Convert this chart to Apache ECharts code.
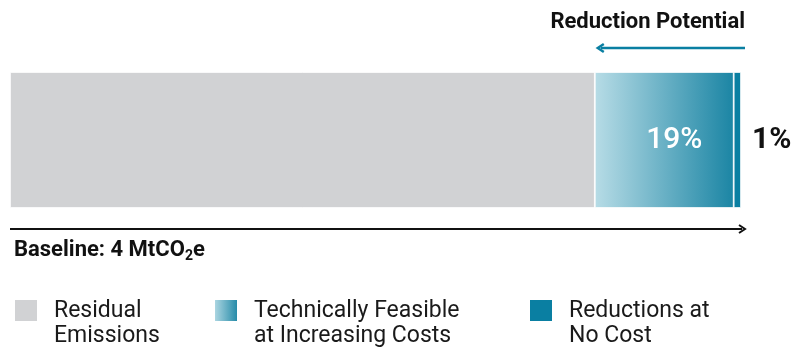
<!DOCTYPE html>
<html>
<head>
<meta charset="utf-8">
<script src="https://cdn.jsdelivr.net/npm/echarts@6/dist/echarts.min.js"></script>
<style>
  html, body { margin: 0; padding: 0; background: #fff; }
  #main { width: 796px; height: 348px; }
</style>
</head>
<body>
<div id="main"></div>
<script>
// values (share of baseline, %)
var categories = ['Baseline'];
var seriesNames = ['Residual\nEmissions', 'Technically Feasible\nat Increasing Costs', 'Reductions at\nNo Cost'];
var residual = [80];
var feasible = [19];
var noCost = [1];
var baselineLabel = 'Baseline: 4 MtCO';

var FONT = 'Roboto, sans-serif';
var TEAL = '#0a7fa2';

var chart = echarts.init(document.getElementById('main'));

var gradient = new echarts.graphic.LinearGradient(0, 0, 1, 0, [
    {offset: 0, color: '#b7dce6'},
    {offset: 1, color: '#1b85a4'}
]);

// square sitting at the top of a 24x50 icon box, so it lines up with the first text line
var legendIcon = 'path://M0,0h24v23h-24z M23.99,49.99h0.01v0.01h-0.01z';

var option = {
    animation: false,
    grid: {left: 10, right: 55, top: 72, height: 136},
    xAxis: {type: 'value', min: 0, max: 100, show: false},
    yAxis: {type: 'category', data: categories, show: false},
    legend: [0, 1, 2].map(function (i) {
        return {
            data: [seriesNames[i]],
            left: [8, 208, 523][i],
            top: 293,
            itemWidth: 24,
            itemHeight: 50,
            icon: legendIcon,
            selectedMode: false,
            textStyle: {
                fontFamily: FONT, fontSize: 23, color: '#1a1a1a',
                lineHeight: 25, padding: [0, 0, 0, 11]
            }
        };
    }),
    series: [{
        name: seriesNames[0], type: 'bar', stack: 'all', data: residual,
        barWidth: 136,
        itemStyle: {color: '#d1d2d4', borderColor: '#fff', borderWidth: 0.8}
    }, {
        name: seriesNames[1], type: 'bar', stack: 'all', data: feasible,
        itemStyle: {color: gradient, borderColor: '#fff', borderWidth: 0.8},
        label: {
            show: true, position: 'inside', offset: [10, 0],
            formatter: '{c}%', color: '#fff',
            fontFamily: FONT, fontSize: 30, fontWeight: 500
        }
    }, {
        name: seriesNames[2], type: 'bar', stack: 'all', data: noCost,
        itemStyle: {color: TEAL, borderColor: '#fff', borderWidth: 0.8},
        label: {
            show: true, position: 'right', distance: 11,
            formatter: '{c}%', color: '#111',
            fontFamily: FONT, fontSize: 30, fontWeight: 'bold'
        }
    }]
};
chart.setOption(option);

// arrows placed from the axis scale
var total = residual[0] + feasible[0] + noCost[0];
var x0 = chart.convertToPixel({gridIndex: 0}, [0, 0])[0];
var xEnd = chart.convertToPixel({gridIndex: 0}, [total, 0])[0] + 4;
var xRes = chart.convertToPixel({gridIndex: 0}, [residual[0], 0])[0] + 3;

function arrow(x1, x2, y, color, w) {
    var dir = x2 > x1 ? 1 : -1;
    return [{
        type: 'line',
        shape: {x1: x1, y1: y, x2: x2 - dir * 3, y2: y},
        style: {stroke: color, lineWidth: w}
    }, {
        type: 'polyline',
        shape: {points: [[x2 - dir * 6, y - 4], [x2, y], [x2 - dir * 6, y + 4]]},
        style: {stroke: color, lineWidth: w, fill: null}
    }];
}

chart.setOption({
    graphic: [].concat(
        arrow(x0, xEnd, 229, '#111', 2),
        arrow(xEnd, xRes, 48, TEAL, 2.5),
        [{
            type: 'text', right: 796 - xEnd, top: 11,
            style: {
                text: 'Reduction Potential', fill: '#111',
                font: 'bold 22px ' + FONT
            }
        }, {
            type: 'text', left: 14, top: 239,
            style: {
                text: baselineLabel + '{sub|2}e',
                fill: '#111', font: 'bold 22px ' + FONT,
                rich: {sub: {fontSize: 14, fontWeight: 'bold', fontFamily: FONT, padding: [13, 0, 0, 0]}}
            }
        }]
    )
});
</script>
</body>
</html>
